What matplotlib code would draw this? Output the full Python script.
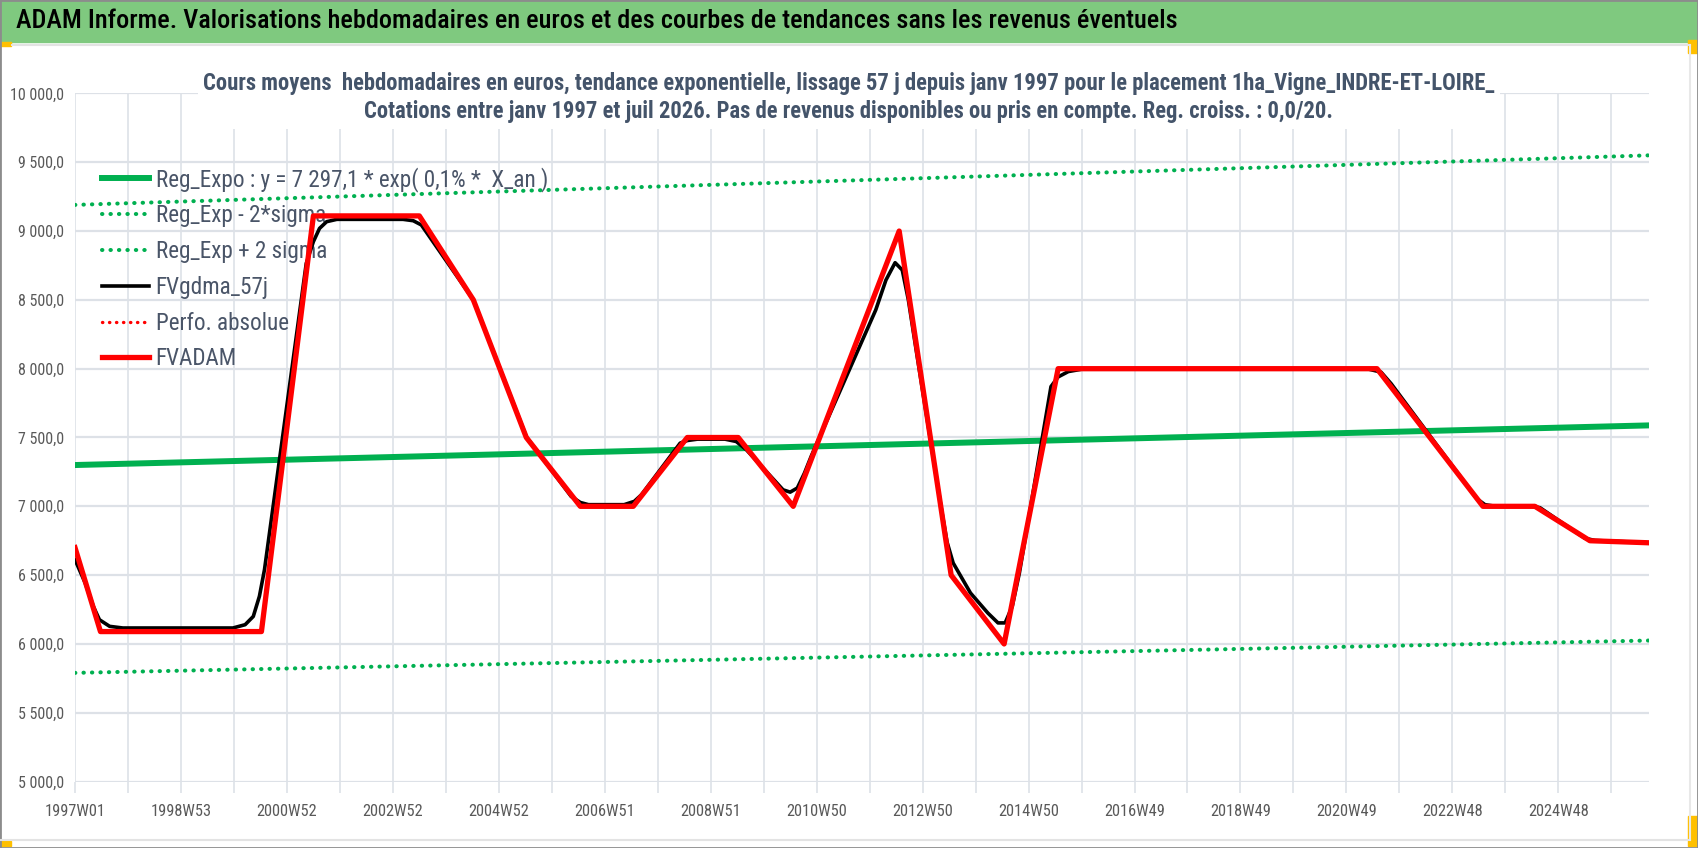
import matplotlib.pyplot as plt
from matplotlib.ticker import FuncFormatter, MultipleLocator, FixedLocator
from matplotlib.lines import Line2D
from matplotlib.patches import Rectangle

# x = week index, 0 = 1997W01 (ISO weeks), last point ~ 2026W30
n_weeks = 1546

# FVADAM (red), knots
adam_weeks = [0, 25, 183, 234, 338, 391, 443, 496, 548, 601, 651, 705, 809,
              860, 912, 965, 1278, 1382, 1433, 1487, 1545]
adam_values = [6700, 6090, 6090, 9110, 9110, 8500, 7500, 7000, 7000, 7500,
               7500, 7000, 9000, 6500, 6000, 8000, 8000, 7000, 7000, 6750, 6735]

# FVgdma_57j (black, smoothed)
gdma_weeks = [0, 10, 18, 24, 34, 47, 155, 167, 175, 181, 186, 227, 234, 240,
              247, 257, 322, 332, 340, 391, 443, 487, 496, 504, 539, 549, 556,
              594, 601, 611, 638, 649, 659, 686, 695, 702, 709, 716, 723, 786,
              796, 805, 812, 818, 826, 850, 856, 862, 879, 896, 906, 913, 920,
              927, 958, 965, 975, 988, 1270, 1282, 1292, 1376, 1384, 1392,
              1428, 1438, 1482, 1492, 1545]
gdma_values = [6612, 6443, 6273, 6176, 6128, 6116, 6116, 6140, 6200, 6346,
               6540, 8765, 8923, 9019, 9068, 9085, 9085, 9075, 9044, 8500,
               7505, 7072, 7028, 7012, 7012, 7036, 7084, 7459, 7478, 7488,
               7488, 7471, 7411, 7193, 7120, 7103, 7133, 7241, 7370, 8427,
               8644, 8770, 8717, 8500, 8120, 7000, 6740, 6588, 6370, 6225,
               6153, 6153, 6274, 6516, 7870, 7940, 7979, 7996, 7996, 7975,
               7890, 7055, 7012, 7003, 7003, 6990, 6768, 6752, 6735]

# exponential trend and +/- 2 sigma bands (start / end)
trend_weeks = [0, 1545]
reg_expo = [7300, 7588]
reg_minus = [5790, 6025]
reg_plus = [9190, 9550]

tick_labels = ['1997W01', '1998W53', '2000W52', '2002W52', '2004W52',
               '2006W51', '2008W51', '2010W50', '2012W50', '2014W50',
               '2016W49', '2018W49', '2020W49', '2022W48', '2024W48']

FONT = ['Roboto Condensed', 'Liberation Sans', 'DejaVu Sans']
plt.rcParams['font.family'] = FONT

green = '#00B050'
grid_col = '#DDE1E7'
text_col = '#44546A'

fig = plt.figure(figsize=(16.98, 8.48), dpi=100)
fig.patch.set_facecolor('white')

# green banner with main title
fig.add_artist(Rectangle((0, 1 - 42 / 848), 1, 42 / 848,
                         transform=fig.transFigure, color='#7FC97F', zorder=0))
fig.text(16 / 1698, 1 - 21 / 848,
         'ADAM Informe. Valorisations hebdomadaires en euros et des courbes '
         'de tendances sans les revenus éventuels',
         ha='left', va='center', fontsize=18.9, fontweight='medium',
         color='black')

ax = fig.add_axes([75 / 1698, 66.4 / 848, 1574 / 1698, 688.2 / 848])

ax.plot(trend_weeks, reg_expo, color=green, lw=4.3, zorder=3,
        label='Reg_Expo : y = 7 297,1 * exp( 0,1% *  X_an )')
ax.plot(trend_weeks, reg_minus, color=green, lw=2.9, ls=(0, (0.1, 2)),
        dash_capstyle='round', zorder=3, label='Reg_Exp - 2*sigma')
ax.plot(trend_weeks, reg_plus, color=green, lw=2.9, ls=(0, (0.1, 2)),
        dash_capstyle='round', zorder=3, label='Reg_Exp + 2 sigma')
ax.plot(gdma_weeks, gdma_values, color='black', lw=2.6, zorder=4,
        label='FVgdma_57j')
ax.plot([], [], color='red', lw=2.4, ls=(0, (0.1, 2)),
        dash_capstyle='round', label='Perfo. absolue')
ax.plot(adam_weeks, adam_values, color='red', lw=3.8, zorder=5,
        label='FVADAM')

ax.set_xlim(0, n_weeks - 1)
ax.set_ylim(5000, 10000)

ax.xaxis.set_major_locator(FixedLocator([104 * i for i in range(len(tick_labels))]))
ax.xaxis.set_minor_locator(MultipleLocator(52))
ax.set_xticklabels(tick_labels)
ax.yaxis.set_major_locator(MultipleLocator(500))
ax.yaxis.set_major_formatter(FuncFormatter(
    lambda v, pos: '{:,.1f}'.format(v).replace(',', ' ').replace('.', ',')))

ax.grid(True, which='both', axis='x', color=grid_col, lw=1.2, zorder=0)
ax.grid(True, which='major', axis='y', color=grid_col, lw=1.6, zorder=0)
ax.set_axisbelow(True)
for s in ax.spines.values():
    s.set_visible(False)
ax.tick_params(axis='x', which='both', length=8, color=grid_col, width=1.2,
               pad=8, labelsize=11.8, labelcolor='#595959')
ax.tick_params(axis='y', length=0, pad=8, labelsize=11.5, labelcolor='#595959')

leg = ax.legend(loc='upper left', bbox_to_anchor=(18 / 1574, 1 - 64 / 688.2),
                frameon=False, fontsize=16.7, handlelength=2.0,
                handletextpad=0.3, labelspacing=0.55, borderaxespad=0)
for t in leg.get_texts():
    t.set_color('#4A5568')
leg.set_zorder(2)

# chart subtitle with white box hiding the grid behind it
fig.text(0.5, 1 - 97.5 / 848,
         'Cours moyens  hebdomadaires en euros, tendance exponentielle, lissage 57 j '
         'depuis janv 1997 pour le placement 1ha_Vigne_INDRE-ET-LOIRE_\n'
         'Cotations entre janv 1997 et juil 2026. Pas de revenus disponibles ou '
         'pris en compte. Reg. croiss. : 0,0/20.',
         ha='center', va='center', multialignment='center', fontsize=16.3,
         fontweight='bold', color=text_col, linespacing=1.3,
         bbox=dict(facecolor='white', edgecolor='none', pad=4), zorder=5)

# frame details of the original screenshot
fig.add_artist(Line2D([12 / 1698, 1690 / 1698], [1 - 45 / 848] * 2,
                      transform=fig.transFigure, color='#E3E3E3', lw=1.5))
fig.add_artist(Line2D([0, 1690 / 1698], [1 - 840 / 848] * 2,
                      transform=fig.transFigure, color='#E3E3E3', lw=1.5))
fig.add_artist(Line2D([1690 / 1698] * 2, [1 - 840 / 848, 1 - 45 / 848],
                      transform=fig.transFigure, color='#E8E8E8', lw=1.5))
fig.add_artist(Rectangle((0, 1 - 46 / 848), 11 / 1698, 4 / 848,
                         transform=fig.transFigure, color='#FFC000'))
fig.add_artist(Rectangle((1688 / 1698, 1 - 53 / 848), 10 / 1698, 13 / 848,
                         transform=fig.transFigure, color='#FFC000'))
fig.add_artist(Rectangle((0, 1 - 846 / 848), 11 / 1698, 5 / 848,
                         transform=fig.transFigure, color='#FFC000'))
fig.add_artist(Rectangle((1688 / 1698, 1 - 846 / 848), 10 / 1698, 30 / 848,
                         transform=fig.transFigure, color='#FFC000'))
fig.add_artist(Rectangle((0, 0), 1, 1, transform=fig.transFigure,
                         fill=False, edgecolor='#8C8C8C', lw=2))

fig.savefig('out.png', dpi=100)
